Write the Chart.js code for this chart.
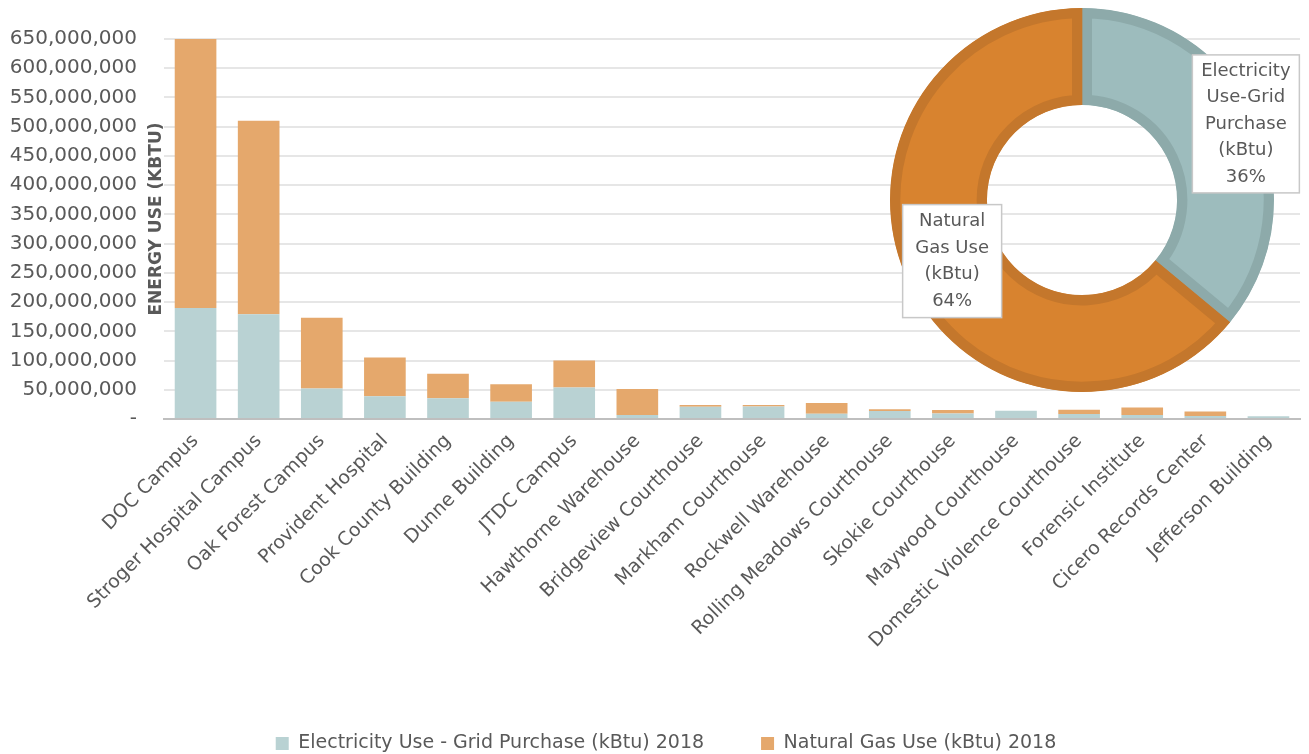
<!DOCTYPE html>
<html>
<head>
<meta charset="utf-8">
<script src="https://cdn.jsdelivr.net/npm/chart.js@4.4.1/dist/chart.umd.min.js"></script>
<style>
  html, body { margin: 0; padding: 0; background: #fff; }
  #wrap { position: relative; width: 1309px; height: 754px; }
  #bars { position: absolute; left: 0; top: 0; }
  #donut { position: absolute; left: 880px; top: 0; }
</style>
</head>
<body>
<div id="wrap">
  <canvas id="bars" width="1309" height="754"></canvas>
  <canvas id="donut" width="429" height="400"></canvas>
</div>
<script>
// buildings, left to right
var buildings = ["DOC Campus", "Stroger Hospital Campus", "Oak Forest Campus", "Provident Hospital",
  "Cook County Building", "Dunne Building", "JTDC Campus", "Hawthorne Warehouse", "Bridgeview Courthouse",
  "Markham Courthouse", "Rockwell Warehouse", "Rolling Meadows Courthouse", "Skokie Courthouse",
  "Maywood Courthouse", "Domestic Violence Courthouse", "Forensic Institute", "Cicero Records Center",
  "Jefferson Building"];

// kBtu, 2018
var electricity = [190e6, 179e6, 52e6, 39e6, 35.5e6, 29.5e6, 54e6, 7e6, 21e6,
  21.5e6, 9e6, 13.5e6, 9.5e6, 14e6, 8.5e6, 7e6, 5e6, 4.5e6];
var naturalGas = [460e6, 331e6, 121e6, 66e6, 42e6, 30e6, 46e6, 44.5e6, 3e6,
  2.5e6, 18.5e6, 3e6, 6e6, 0, 7.5e6, 12.5e6, 8e6, 0];

var seriesNames = ["Electricity Use - Grid Purchase (kBtu) 2018", "Natural Gas Use (kBtu) 2018"];

// share of total energy use
var shareLabels = [["Electricity", "Use-Grid", "Purchase", "(kBtu)"], ["Natural", "Gas Use", "(kBtu)"]];
var shareValues = [36, 64];

var yMax = 650e6;
var yStep = 50e6;

var FONT = "'DejaVu Sans', sans-serif";
var GREY = "#595959";

var yTitle = {
  id: 'yTitle',
  afterDraw: function(chart){
    var ctx = chart.ctx;
    var area = chart.chartArea;
    ctx.save();
    ctx.translate(157, (area.top + area.bottom) / 2 - 10);
    ctx.rotate(-Math.PI / 2);
    ctx.font = "bold 17px " + FONT;
    ctx.fillStyle = GREY;
    ctx.textAlign = "center";
    ctx.textBaseline = "middle";
    ctx.fillText("ENERGY USE (KBTU)", 0, 0);
    ctx.restore();
  }
};

// nudge the legend a little right and down
var legendNudge = {
  id: 'legendNudge',
  afterLayout: function(chart){
    var lg = chart.legend;
    lg.left += 16; lg.right += 16;
    lg.top += 9; lg.bottom += 9;
  }
};

new Chart(document.getElementById('bars').getContext('2d'), {
  type: 'bar',
  data: {
    labels: buildings,
    datasets: [{
      label: seriesNames[0],
      data: electricity,
      backgroundColor: "#B9D2D3"
    }, {
      label: seriesNames[1],
      data: naturalGas,
      backgroundColor: "#E5A86C"
    }]
  },
  options: {
    responsive: false,
    animation: false,
    layout: { padding: { top: 28, right: 9, left: 0, bottom: 0 } },
    categoryPercentage: 1,
    barPercentage: 0.66,
    plugins: {
      tooltip: { enabled: false },
      legend: {
        position: 'bottom',
        labels: {
          boxWidth: 13, boxHeight: 13,
          padding: 57,
          color: GREY,
          font: { family: FONT, size: 19 }
        }
      }
    },
    scales: {
      x: {
        stacked: true,
        grid: { display: false },
        border: { color: "#BFBFBF", width: 2 },
        ticks: {
          color: GREY, maxRotation: 45, minRotation: 45,
          font: { family: FONT, size: 19 }
        },
        afterFit: function(scale){ scale.height = 249; }
      },
      y: {
        stacked: true,
        min: 0, max: yMax,
        grid: { color: "#E6E6E6", lineWidth: 2, drawTicks: false },
        border: { display: false },
        ticks: {
          stepSize: yStep, padding: 27,
          color: GREY,
          font: { family: FONT, size: 20 },
          callback: function(v){ return v === 0 ? "-" : v.toLocaleString('en-US'); }
        },
        afterFit: function(scale){ scale.width = 164; }
      }
    }
  },
  plugins: [yTitle, legendNudge]
});

var shareBoxes = {
  id: 'shareBoxes',
  afterDatasetsDraw: function(chart){
    var ctx = chart.ctx;
    var arcs = chart.getDatasetMeta(0).data;
    var shifts = [[34, -15], [0, 0]];
    var sizes = [[107, 138], [99, 113]];
    arcs.forEach(function(arc, i){
      var p = arc.tooltipPosition();
      var cx = p.x + shifts[i][0], cy = p.y + shifts[i][1];
      var w = sizes[i][0], h = sizes[i][1];
      ctx.save();
      ctx.fillStyle = "#fff";
      ctx.strokeStyle = "#C8C8C8";
      ctx.lineWidth = 1.5;
      ctx.fillRect(cx - w / 2, cy - h / 2, w, h);
      ctx.strokeRect(cx - w / 2, cy - h / 2, w, h);
      var lines = shareLabels[i].concat([shareValues[i] + "%"]);
      ctx.fillStyle = GREY;
      ctx.font = "18px " + FONT;
      ctx.textAlign = "center";
      ctx.textBaseline = "middle";
      var lh = 26.5;
      var y0 = cy - (lines.length - 1) * lh / 2;
      lines.forEach(function(t, k){ ctx.fillText(t, cx, y0 + k * lh); });
      ctx.restore();
    });
  }
};

new Chart(document.getElementById('donut').getContext('2d'), {
  type: 'doughnut',
  data: {
    labels: ["Electricity Use-Grid Purchase (kBtu)", "Natural Gas Use (kBtu)"],
    datasets: [{
      data: shareValues,
      backgroundColor: ["#9DBCBD", "#D8832F"],
      borderColor: ["#8DAAAA", "#C4772C"],
      borderWidth: 10,
      borderAlign: 'inner'
    }]
  },
  options: {
    responsive: false,
    animation: false,
    cutout: '49.5%',
    radius: 192,
    layout: { padding: { left: 10, right: 35, top: 8, bottom: 8 } },
    plugins: { legend: { display: false }, tooltip: { enabled: false } }
  },
  plugins: [shareBoxes]
});
</script>
</body>
</html>
